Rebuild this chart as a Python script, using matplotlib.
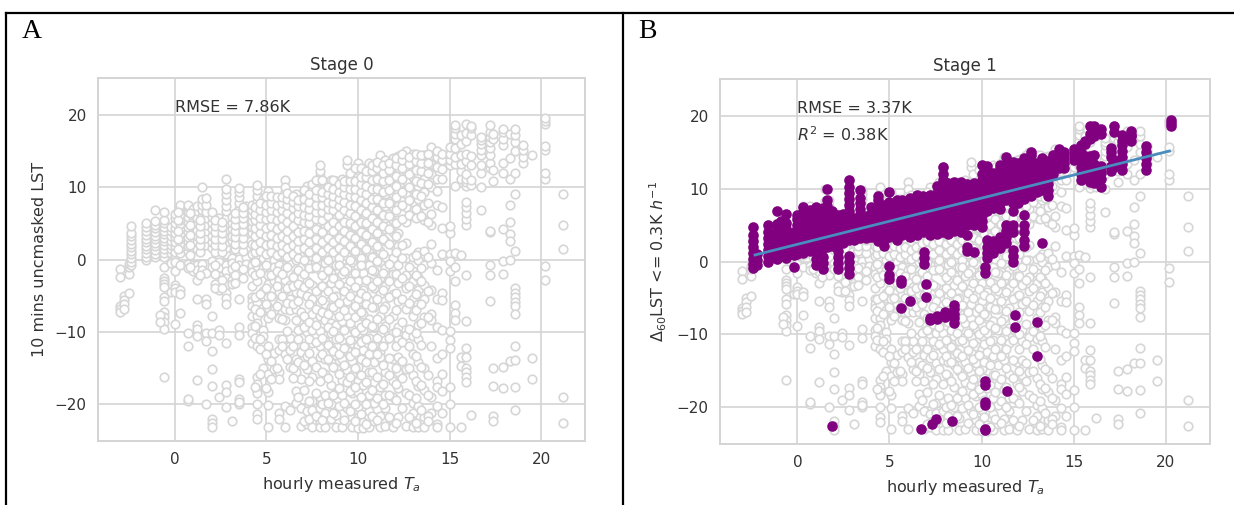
import matplotlib
matplotlib.use("Agg")
import matplotlib.pyplot as plt
from matplotlib.lines import Line2D

grey_x = [-3.0, -2.8, -2.5, -2.4, -1.6, -1.1, -0.6, -0.8, -0.2, 0.0, 0.3, 0.7, 1.0, 1.2, 1.5, 1.7, 2.0, 2.4, 2.8,
          3.1, 3.5, 3.9, 4.2, 4.5, 4.8, 5.1, 5.4, 5.7, 6.0, 6.3, 6.6, 6.9, 7.2, 7.5, 7.9, 8.2, 8.5, 8.8, 9.1, 9.4,
          9.7, 10.0, 10.3, 10.6, 10.9, 11.2, 11.5, 11.9, 12.2, 12.6, 13.0, 13.3, 13.6, 14.0, 14.3, 14.6, 15.0, 15.3,
          15.6, 15.9, 16.2, 16.7, 17.2, 17.4, 17.9, 18.3, 18.6, 19.0, 19.5, 20.2, 21.2]
grey_y = [
    [-1.3, -2.4, -6.4, -6.8, -7.2],
    [-5.0, -5.6, -6.2, -6.9],
    [-2.0, -4.7, -1.0, -0.6],
    [-0.8, -0.3, 0.2, 0.7, 1.2, 1.7, 2.2, 2.7, 3.2, 3.7, 4.6],
    [0.0, 0.4, 0.9, 1.4, 1.9, 2.4, 2.9, 3.4, 4.0, 4.5, 5.0],
    [0.3, 0.8, 1.3, 1.8, 2.3, 2.8, 3.3, 3.8, 4.3, 4.8, 5.3, 6.9],
    [0.4, 0.9, 1.4, 2.0, 2.5, 3.0, 3.5, 4.0, 4.5, 5.0, 5.5, 6.6, -1.0, -2.5, -3.0, -3.4, -3.8, -5.2, -5.8, -7.3, -8.0, -8.7, -9.6, -16.3],
    [-7.7, -8.6],
    [0.9, 1.4, 2.0, 2.6, 3.2, 3.9, 4.5, -0.5, -4.5],
    [0.6, 1.1, 1.8, 2.4, 3.1, 3.7, 4.4, 5.1, 5.7, 6.3, -0.4, -1.6, -3.5, -4.0, -4.5, -8.9],
    [0.9, 1.6, 2.2, 2.9, 3.5, 4.2, 4.9, 5.5, 6.1, 6.8, 7.3, 7.6, -0.8, -4.2, -4.8, -7.4],
    [1.2, 1.8, 2.5, 3.1, 3.8, 4.5, 5.2, 5.9, 6.6, 7.2, 7.6, -0.6, -1.2, -10.2, -11.9, -19.6, -19.3],
    [1.4, 2.1, 3.0, 3.8, 4.6, 5.4, 6.2, 7.0, -0.7, -1.6],
    [1.5, 2.4, 3.2, 4.1, 5.0, 5.8, 6.7, 7.4, -0.8, -1.5, -2.9, -5.5, -9.0, -9.6, -10.6, -16.6],
    [1.9, 2.6, 3.4, 4.3, 5.1, 6.0, 6.8, 7.5, 8.3, 10.0, -0.6, -1.4],
    [2.0, 3.0, 3.9, 4.8, 5.7, 6.6, 7.6, 8.5, -1.8, -5.5, -6.2, -10.2, -11.3, -20.0],
    [1.6, 2.4, 3.3, 4.2, 5.0, 5.9, 6.5, -0.2, -1.0, -7.8, -10.2, -12.7, -17.5, -22.0, -22.6, -23.2, -15.2],
    [0.5, 1.4, 2.3, 3.2, 4.0, 4.9, 5.7, -0.4, -1.2, -2.3, -3.0, -4.2, -9.8, -10.4, -19.0],
    [0.8, 1.6, 2.4, 3.3, 4.1, 5.0, 5.8, 6.7, 7.4, 8.2, 9.0, 9.8, 11.2, -0.8, -1.6, -2.5, -3.5, -4.6, -5.3, -6.1, -11.5, -17.4, -18.3, -20.4],
    [2.5, 3.3, 4.2, 5.0, 5.9, 0.2, -0.5, -1.3, -2.9, -3.4, -22.4],
    [3.0, 3.8, 4.6, 5.4, 6.2, 7.0, 7.8, 8.6, 9.3, 9.9, 1.0, 0.1, -0.8, -1.6, -5.4, -9.3, -10.5, -16.5, -16.9, -19.3, -20.0, -19.7],
    [3.5, 4.3, 5.1, 5.9, 6.6, 7.4, 1.5, 0.4, -0.6],
    [3.7, 4.5, 5.3, 6.1, 6.9, 7.5, 2.2, 0.8, -0.8, -1.7, -3.7, -5.2, -5.8, -6.4, -7.8, -9.4, -10.2, -11.6],
    [4.0, 4.8, 5.6, 6.4, 7.2, 8.0, 8.8, 9.6, 10.3, 2.4, 1.5, 0.4, -0.9, -3.0, -6.0, -7.8, -8.8, -12.0, -16.3, -17.2, -18.0, -18.4, -20.0, -21.4, -22.1],
    [4.3, 5.1, 5.9, 6.7, 7.5, 8.3, 3.0, 1.6, 0.2, -1.2, -4.4, -5.0, -6.7, -9.7, -10.6, -11.5, -15.0],
    [3.5, 4.5, 5.3, 6.1, 6.9, 7.6, 8.5, 9.5, 2.4, 1.2, -0.3, -2.2, -3.4, -5.2, -6.7, -8.1, -12.0, -13.8, -15.8, -18.3, -20.1, -23.1],
    [3.9, 4.8, 5.6, 6.4, 7.2, 8.0, 2.8, 1.4, 0.0, -1.0, -3.0, -5.8, -7.0, -12.9, -15.2],
    [4.3, 5.2, 6.0, 6.8, 7.6, 8.3, 3.0, 1.5, 0.5, -0.8, -2.9, -4.5, -6.0, -8.1, -11.0, -12.5, -15.5, -16.5, -21.2, -22.0],
    [4.5, 5.3, 6.2, 7.0, 7.8, 8.6, 9.3, 11.0, 10.0, 2.8, 1.8, 0.4, -1.2, -2.8, -4.2, -6.9, -8.4, -11.0, -13.1, -20.2, -23.1],
    [3.5, 4.8, 5.6, 6.4, 7.2, 8.0, 8.8, 2.4, 0.8, -0.5, -3.5, -5.5, -7.0, -10.9, -12.5, -14.8, -20.8],
    [3.0, 4.2, 5.0, 6.0, 6.9, 7.8, 8.7, 9.1, 1.5, 0.0, -1.9, -4.5, -6.9, -8.3, -11.8, -13.8, -15.5, -18.2, -19.9],
    [2.0, 3.4, 4.8, 5.8, 6.7, 7.7, 8.4, 0.5, -1.0, -2.5, -4.6, -7.2, -9.6, -12.8, -16.5, -20.5, -23.0],
    [3.2, 4.4, 5.4, 6.4, 7.4, 8.2, 9.0, 10.2, 1.2, -0.5, -3.0, -5.0, -8.5, -10.0, -13.3, -15.2, -21.0, -22.8],
    [2.0, 3.5, 4.8, 5.8, 6.8, 7.8, 8.8, 9.6, 10.4, 0.5, -1.2, -3.5, -5.5, -7.5, -9.8, -11.5, -14.0, -16.2, -19.5, -20.8, -23.2],
    [0.8, 2.5, 4.0, 5.2, 6.3, 7.3, 8.3, 9.2, 10.0, 10.8, 11.5, 12.2, 13.0, -1.5, -3.8, -6.0, -7.8, -9.9, -12.0, -13.5, -16.8, -19.0, -20.5, -22.5, -23.2],
    [1.8, 3.2, 4.8, 6.0, 7.0, 8.0, 9.0, 10.0, 10.7, -0.5, -2.5, -4.8, -6.2, -8.3, -11.3, -13.8, -15.8, -18.8, -21.2, -23.2],
    [2.2, 3.8, 5.3, 6.5, 7.5, 8.5, 9.5, 10.3, 11.0, 0.2, -1.8, -3.3, -6.5, -8.8, -10.2, -12.2, -14.2, -17.3, -20.0, -22.0],
    [1.0, 2.8, 4.4, 5.8, 7.0, 8.0, 9.0, 10.0, 10.8, -0.8, -2.6, -5.0, -7.0, -9.0, -11.0, -13.2, -15.0, -18.5, -21.5, -23.2],
    [2.0, 3.5, 5.0, 6.4, 7.6, 8.6, 9.6, 10.6, 11.2, 0.0, -2.0, -3.8, -6.2, -8.5, -11.2, -13.8, -16.6, -18.8, -23.1],
    [0.5, 2.4, 4.2, 5.7, 7.0, 8.2, 9.2, 10.2, 11.0, 13.0, 13.7, -1.2, -3.6, -5.8, -7.8, -10.4, -12.5, -15.3, -17.0, -20.5],
    [1.5, 3.2, 4.8, 6.4, 7.8, 9.0, 10.0, 11.0, 11.8, -0.4, -2.4, -4.6, -7.0, -9.2, -11.6, -14.0, -16.0, -18.5, -21.8, -23.2],
    [0.8, 2.6, 4.2, 5.8, 7.2, 8.4, 9.5, 10.5, 11.5, 12.4, 13.3, -1.0, -3.0, -5.4, -6.8, -8.8, -10.2, -12.0, -14.8, -16.8, -18.3, -20.4, -21.8, -23.3],
    [2.0, 3.8, 5.4, 6.8, 8.0, 9.2, 10.4, 11.4, 12.2, 0.2, -1.8, -4.2, -7.5, -9.8, -12.5, -13.8, -17.4, -19.5, -22.5, -23.3],
    [1.0, 3.0, 4.8, 6.4, 7.9, 9.4, 10.8, 11.8, 12.6, 13.3, -0.8, -3.0, -5.6, -8.2, -10.8, -13.0, -15.6, -18.8, -21.0, -23.2],
    [2.4, 4.0, 5.6, 7.2, 8.8, 10.2, 11.4, 12.4, 13.2, 0.5, -1.6, -4.0, -6.6, -9.4, -11.8, -14.2, -17.0, -19.8, -22.4],
    [1.2, 3.2, 5.0, 6.6, 8.2, 9.6, 11.0, 12.2, 13.2, 14.4, -0.3, -2.5, -4.8, -7.8, -10.4, -12.8, -13.5, -17.6, -21.6, -23.2],
    [2.6, 4.2, 5.8, 7.4, 9.0, 10.5, 11.8, 12.8, 13.7, 0.4, -1.2, -3.6, -6.4, -9.2, -11.2, -15.5, -18.8, -20.6, -23.0],
    [0.2, 2.0, 3.8, 5.5, 7.2, 9.0, 10.6, 12.0, 13.0, 14.0, -2.0, -4.8, -7.8, -10.2, -13.8, -16.8, -19.0, -22.8, -23.2],
    [1.8, 3.6, 5.4, 7.4, 9.4, 11.2, 12.6, 13.6, 14.3, -0.8, -3.2, -5.8, -9.4, -11.0, -13.5, -15.6, -17.8, -21.8],
    [2.3, 5.2, 7.2, 9.0, 10.8, 12.2, 13.4, 14.4, 15.0, 0.2, -2.2, -4.0, -6.8, -10.4, -15.2, -18.4, -23.0],
    [6.0, 8.0, 9.8, 11.4, 12.8, 13.8, 14.6, 0.4, -1.6, -3.0, -5.5, -7.8, -10.6, -13.0, -16.0, -19.8, -21.2, -22.4, -23.2],
    [6.5, 8.4, 10.2, 11.8, 13.0, 14.2, 1.0, 0.0, -2.4, -4.2, -6.2, -9.0, -11.0, -14.2, -17.5, -20.2, -23.1],
    [5.5, 7.5, 9.4, 11.2, 12.6, 13.8, 14.5, 1.2, -0.8, -3.5, -5.5, -8.0, -15.0, -18.0, -21.8, -23.2],
    [4.8, 6.3, 10.0, 11.8, 13.2, 14.4, 15.5, 2.2, -0.5, -4.2, -7.6, -8.4, -12.0, -19.0, -21.2],
    [7.6, 9.5, 11.2, 12.8, 14.2, 15.0, -1.5, -5.4, -9.4, -13.6, -16.8, -17.6, -20.2, -22.8, -23.2],
    [4.3, 7.3, 11.2, 12.5, 13.8, 14.6, 0.8, -4.6, -5.6, -9.8, -13.0, -15.9, -18.2, -21.2],
    [3.6, 4.6, 13.0, 13.8, 14.6, 15.5, 0.8, -0.2, -1.6, -9.9, -11.2, -12.3, -17.7, -20.0, -23.2],
    [10.2, 13.2, 14.2, 15.4, 16.6, 17.4, 18.2, 18.6, 0.9, -1.0, -3.0, -6.3, -7.4, -8.4],
    [11.2, 12.3, 13.2, 14.4, 16.0, 17.2, 0.6, -13.5, -14.7, -23.2],
    [10.1, 10.7, 11.2, 11.8, 13.6, 14.6, 16.4, 17.5, 18.7, 4.8, 5.6, 6.4, 7.3, 8.0, -2.2, -8.5, -12.2, -13.5, -15.0, -15.6, -16.3, -16.9],
    [10.3, 11.0, 13.0, 14.3, 17.2, 18.2, 18.5, -21.5],
    [10.0, 12.0, 13.0, 14.5, 15.2, 16.0, 16.5, 17.0, 6.8],
    [12.6, 13.3, 14.4, 15.4, 16.2, 17.0, 17.7, 18.6, 3.8, 4.0, -0.7, -2.2, -5.7],
    [10.9, 12.4, 16.6, 17.4, -15.0, -17.5, -21.6, -22.3],
    [12.0, 13.4, 15.8, 16.6, 17.6, 18.0, 4.2, -0.2, -2.0, -14.8, -17.8],
    [11.2, 14.0, 17.3, 7.5, 5.2, 3.5, 2.5, 0.0, -14.0],
    [12.0, 15.0, 16.2, 17.2, 18.0, 9.0, 1.2, -4.0, -4.6, -5.2, -5.9, -6.4, -7.6, -11.9, -13.9, -17.7, -20.8],
    [13.4, 14.2, 15.2, 15.9],
    [14.4, -13.6, -16.5],
    [11.2, 12.0, 15.2, 15.7, 18.8, 19.2, 19.5, -0.9, -2.8],
    [9.0, 4.8, 1.4, -19.0, -22.6],
]

# second pass over the denser part of the cloud, columns in between the first ones
grey_x2 = [0.15, 0.85, 1.35, 2.2, 2.6, 3.3, 3.7, 4.35, 4.65, 4.95, 5.25, 5.55, 5.85, 6.15, 6.45, 6.75, 7.05, 7.35,
           7.7, 8.05, 8.35, 8.65, 8.95, 9.25, 9.55, 9.85, 10.15, 10.45, 10.75, 11.05, 11.35, 11.7, 12.05, 12.4, 12.8,
           13.15, 13.45, 13.8]
grey_y2 = [
    [1.4, 2.8, 4.0, 5.4, 6.6],
    [0.6, 2.0, 3.4, 4.8, 6.4, -1.0],
    [1.0, 2.0, 2.9, 3.7, 4.6, 5.4, -2.2],
    [1.1, 2.0, 2.9, 3.8, 4.6, 5.4, -0.8, -2.0, -3.4, -4.0],
    [1.0, 1.9, 2.8, 3.6, 4.5, 5.2, -2.8, -4.0],
    [1.4, 2.2, 3.1, 3.9, 4.8, 5.6, 6.4, -0.9, -2.2, -3.2],
    [1.2, 2.1, 3.0, 3.9, 4.9, 5.8, 6.4, 7.2, -1.3, -2.6],
    [1.0, 2.0, 3.2, 4.4, 5.4, 6.3, 7.3, -0.4, -2.2, -5.2, -6.8, -9.2, -10.8, -17.6],
    [1.2, 2.4, 3.6, 4.8, 5.8, 6.8, 7.8, -1.8, -4.8, -7.2, -11.0, -12.4, -15.8],
    [0.8, 2.0, 3.2, 4.4, 5.6, 6.6, 7.6, 8.8, -0.8, -3.9, -6.2, -13.0, -17.8],
    [1.0, 2.2, 3.4, 4.6, 5.8, 6.8, 7.8, 8.8, -2.2, -5.0, -7.5, -14.0, -16.5],
    [0.6, 1.8, 3.0, 4.2, 5.4, 6.6, 7.6, 8.6, -1.6, -3.7, -6.4, -15.0],
    [1.0, 2.0, 3.2, 4.6, 5.8, 6.8, 7.8, 8.6, -2.0, -5.0, -8.2, -11.0, -12.0],
    [0.4, 1.6, 2.8, 4.0, 5.2, 6.4, 7.6, 8.4, 9.2, -1.0, -4.0, -6.0, -9.9, -13.8],
    [0.8, 2.0, 3.2, 4.6, 5.9, 7.1, 8.0, 8.8, -2.4, -3.6, -6.2, -12.0, -15.0, -16.4],
    [0.2, 1.4, 2.6, 3.8, 5.4, 6.4, 7.4, 8.2, -1.4, -3.4, -5.8, -9.8, -11.0, -14.2, -19.0],
    [0.0, 1.6, 2.8, 4.0, 5.2, 6.2, 7.2, 8.4, 9.6, -2.0, -3.8, -7.8, -9.4, -12.0, -14.6, -18.0, -22.4],
    [1.0, 2.4, 3.6, 5.0, 6.0, 7.0, 8.0, 9.0, -1.2, -3.2, -6.2, -8.6, -11.0, -12.9, -16.8, -19.6, -22.0],
    [0.2, 1.6, 2.8, 4.2, 5.6, 6.6, 7.6, 8.6, 9.6, 11.0, -1.0, -4.4, -6.8, -9.0, -11.4, -14.8, -18.4, -21.6],
    [1.0, 2.4, 3.8, 5.4, 6.6, 7.6, 8.6, 9.4, 11.0, -2.2, -3.6, -5.6, -7.2, -10.8, -13.0, -15.5, -20.0, -22.2],
    [0.0, 1.6, 3.0, 4.6, 6.0, 7.0, 8.0, 9.0, 10.0, -1.4, -4.4, -7.5, -9.4, -11.8, -13.8, -16.4, -19.8],
    [1.0, 2.4, 4.0, 5.2, 6.8, 7.8, 8.8, 9.8, 11.0, -2.6, -5.2, -6.6, -9.9, -12.6, -14.8, -18.8, -21.2],
    [0.2, 1.6, 3.0, 4.6, 6.2, 7.4, 8.4, 9.4, 10.4, -0.8, -3.4, -6.0, -7.8, -10.8, -13.0, -15.8, -17.8, -20.2],
    [1.0, 2.6, 4.0, 5.2, 6.8, 8.0, 9.0, 10.0, 10.8, -1.6, -4.4, -7.0, -9.8, -12.2, -14.6, -19.8, -22.2],
    [0.0, 1.8, 3.4, 5.0, 6.4, 7.6, 8.8, 9.8, 10.8, 12.0, -3.0, -5.0, -8.8, -11.2, -13.4, -16.2, -18.2, -21.0],
    [1.2, 3.0, 4.6, 6.0, 7.4, 8.6, 9.8, 10.8, 12.6, -1.8, -3.8, -6.4, -8.0, -10.0, -12.8, -15.0, -17.6, -20.0, -22.4],
    [0.2, 2.2, 3.8, 5.2, 6.8, 8.2, 9.4, 10.4, 11.4, 12.6, -0.8, -4.6, -7.2, -9.4, -11.4, -13.8, -16.0, -19.0, -21.4],
    [1.4, 3.4, 5.0, 6.4, 7.8, 9.0, 10.2, 11.4, 12.2, -2.8, -5.0, -6.2, -8.8, -11.0, -14.2, -17.0, -20.0, -22.8],
    [0.4, 2.4, 4.2, 5.8, 7.2, 8.4, 9.8, 11.0, 12.2, 13.0, -1.4, -3.6, -6.6, -9.2, -12.0, -15.6, -18.0, -21.6],
    [1.8, 3.6, 5.2, 6.8, 8.4, 9.8, 11.2, 12.6, 13.5, -0.2, -3.0, -5.4, -8.2, -10.8, -13.0, -16.2, -19.2, -22.2],
    [0.8, 2.8, 4.6, 6.2, 7.8, 9.4, 10.8, 12.0, 13.0, -1.8, -4.2, -6.8, -9.6, -12.0, -14.6, -17.2, -20.0],
    [2.2, 4.2, 6.0, 7.8, 9.6, 11.0, 12.4, 13.4, -0.6, -3.0, -5.2, -8.2, -10.8, -13.6, -16.0, -18.8, -21.8],
    [1.0, 3.2, 5.0, 6.8, 8.6, 10.2, 11.6, 13.0, 14.0, -2.0, -4.6, -7.0, -10.0, -12.0, -15.0, -17.2, -19.4, -22.6],
    [2.0, 5.6, 7.6, 9.4, 11.2, 12.6, 13.8, 14.6, 0.2, -2.6, -5.4, -8.6, -11.4, -14.0, -16.4, -20.6],
    [6.2, 8.2, 10.0, 11.8, 13.2, 14.2, -1.0, -3.6, -6.0, -9.6, -12.0, -15.0, -18.8, -21.8],
    [5.8, 7.0, 9.0, 10.8, 12.4, 13.6, 14.6, 0.6, -2.2, -4.8, -7.0, -10.2, -13.4, -16.8, -19.2, -22.6],
    [6.0, 8.8, 10.6, 12.2, 13.4, 14.4, -1.2, -3.0, -6.2, -8.8, -11.8, -14.8, -17.4, -20.8],
    [5.2, 7.8, 10.4, 12.0, 13.4, 14.6, 0.4, -4.4, -8.0, -16.0, -18.8, -21.6, -22.4],
]

purple_x = [-2.4, -2.2, -1.6, -1.1, -0.9, -0.6, -0.2, 0.0, 0.3, 0.7, 1.0, 1.4, 1.6, 1.9, 2.2, 2.5, 2.8, 3.1, 3.4,
            3.7, 4.0, 4.4, 4.7, 5.0, 5.4, 5.7, 6.1, 6.5, 6.8, 7.2, 7.6, 7.9, 8.2, 8.5, 8.9, 9.2, 9.6, 10.0, 10.3, 10.6,
            11.0, 11.3, 11.7, 12.0, 12.3, 12.7, 13.0, 13.3, 13.6, 13.9, 14.2, 14.5, 15.0, 15.4, 15.6, 15.9, 16.1, 16.5,
            17.0, 17.2, 17.6, 18.1, 18.9, 20.3, 5.0, 5.6, 6.1, 7.0, 7.2, 7.6, 8.0, 8.5, 10.2, 11.4, 11.8, 13.0, 6.9, 1.9,
            6.7, 7.3, 7.5, 8.4]
purple_y = [
    [-0.9, -0.3, 0.4, 1.2, 2.0, 2.8, 3.6, 4.7],
    [-0.5, 0.2, 1.0],
    [0.0, 0.8, 1.6, 2.4, 3.2, 4.0, 5.0],
    [0.4, 1.2, 2.0, 2.8, 3.6, 4.4, 5.2, 7.0],
    [0.8, 1.6, 2.4, 3.2, 4.0, 4.8, 5.6],
    [0.5, 1.3, 2.1, 2.9, 3.7, 4.5, 5.3, 6.6],
    [0.9, 1.7, 2.5, 3.3, 4.1, -0.8],
    [1.0, 1.8, 2.6, 3.4, 4.2, 5.0, 5.8, 6.4],
    [1.2, 2.0, 2.8, 3.6, 4.4, 5.2, 6.0, 6.8, 7.5],
    [1.5, 2.3, 3.1, 3.9, 4.7, 5.5, 6.3, 7.1],
    [1.5, 2.3, 3.1, 3.9, 4.7, 5.5, 6.3, 7.5, -0.5, 0.3],
    [1.8, 2.6, 3.4, 4.2, 5.0, 5.8, 6.6, 7.4, -1.0, -0.2, 0.6],
    [2.0, 2.8, 3.6, 4.4, 5.2, 6.0, 6.8, 7.6, 8.4, 10.0],
    [2.2, 3.0, 3.8, 4.6, 5.4, 6.2, 7.0],
    [2.4, 3.2, 4.0, 4.8, 5.6, 6.4, -1.0, -0.2, 0.6, 1.4],
    [2.6, 3.4, 4.2, 5.0, 5.8, 6.5],
    [3.0, 3.8, 4.6, 5.4, 6.2, 7.0, 7.8, 8.6, 9.4, 10.2, 11.2, -1.7, -0.9, 0.0, 0.8],
    [3.0, 3.8, 4.6, 5.4, 6.0],
    [3.2, 4.0, 4.8, 5.6, 6.4, 7.2, 8.0, 8.8, 9.9],
    [3.2, 4.0, 4.8, 5.6, 6.3],
    [3.4, 4.2, 5.0, 5.8, 6.6, 7.5],
    [2.8, 3.6, 4.4, 5.2, 6.0, 6.8, 7.6, 8.4, 9.0],
    [2.2, 3.0, 3.8, 4.6, 5.4, 6.2, 7.0, 7.8],
    [3.4, 4.2, 5.0, 5.8, 6.6, 7.4, 8.2, 9.5],
    [3.0, 3.8, 4.6, 5.4, 6.2, 7.0, 7.8, 8.4],
    [3.6, 4.4, 5.2, 6.0, 6.8, 7.6, 8.4],
    [3.4, 4.2, 5.0, 5.8, 6.6, 7.4, 8.2, 8.8],
    [3.6, 4.4, 5.2, 6.0, 6.8, 7.6, 8.4, 9.1],
    [4.0, 4.8, 5.6, 6.4, 7.2, 8.0, 9.0],
    [3.6, 4.4, 5.2, 6.0, 6.8, 7.6, 8.4, 9.2],
    [3.8, 4.6, 5.4, 6.2, 7.0, 7.8, 8.6, 9.4, 10.4],
    [4.0, 4.8, 5.6, 6.4, 7.2, 8.0, 8.8, 9.6, 10.4, 11.2, 12.0, 13.0],
    [3.8, 4.6, 5.4, 6.2, 7.0, 7.8, 8.6, 9.4, 10.2, 10.8],
    [4.2, 5.0, 5.8, 6.6, 7.4, 8.2, 9.0, 9.8, 10.6, 11.0],
    [4.0, 4.8, 5.6, 6.4, 7.2, 8.0, 8.8, 9.6, 10.4, 11.0],
    [5.0, 5.8, 6.6, 7.4, 8.2, 9.0, 9.8, 10.6, 3.7, 2.0, 1.5],
    [6.0, 6.8, 7.6, 8.4, 9.2, 10.0, 10.8, 5.0, 1.3],
    [4.8, 5.6, 6.4, 7.2, 8.0, 8.8, 9.6, 10.4, 11.2, 12.0, 13.3],
    [0.5, 1.2, 2.0, 3.0, 7.0, 7.8, 8.6, 9.4, 10.2, 11.0, 11.8, 12.6, 13.2],
    [1.2, 2.0, 2.8, 7.4, 8.2, 9.0, 9.8, 10.6, 11.4, 12.2],
    [1.8, 2.6, 3.4, 7.2, 8.0, 8.8, 9.6, 10.4, 11.2, 12.0, 12.8, 13.3],
    [2.6, 3.4, 4.2, 5.0, 8.4, 9.2, 10.0, 10.8, 11.6, 12.4, 13.4, 14.4],
    [0.0, 0.8, 1.6, 4.0, 5.0, 7.0, 8.0, 8.8, 9.6, 10.4, 11.2, 12.0, 12.8, 13.7],
    [8.0, 8.8, 9.6, 10.4, 11.2, 12.0, 12.8, 13.6],
    [2.2, 3.0, 4.0, 5.0, 6.4, 8.6, 9.4, 10.2, 11.0, 11.8, 12.6, 13.4, 14.2],
    [9.0, 9.8, 10.6, 11.4, 12.2, 13.0, 13.8, 14.6, 15.0],
    [9.6, 10.4, 11.2, 12.0, 12.8, 13.6],
    [2.5, 9.8, 10.6, 11.4, 12.2, 13.0, 13.8, 14.3],
    [9.0, 9.8, 10.6, 11.4, 12.2, 13.0, 13.8],
    [12.0, 12.8, 13.4, 14.2, 14.7],
    [12.8, 13.6, 14.4, 15.5],
    [12.8, 13.6, 14.4, 15.0],
    [14.0, 14.8, 15.5],
    [15.0, 16.0, 14.0, 13.0, 12.0, 11.2],
    [16.2, 16.6, 14.5, 13.5, 12.5, 11.5],
    [16.8, 17.6, 18.6, 12.8, 11.8, 11.0, 14.5],
    [17.2, 18.0, 18.7, 13.4, 12.6, 11.8, 10.8, 14.6],
    [18.2, 17.5, 13.2, 12.2, 11.4, 10.2, 12.8],
    [12.4, 13.2, 14.4, 15.0, 15.6],
    [18.6, 17.8, 13.0, 14.0],
    [16.6, 17.4, 12.6, 13.4, 14.4, 15.2, 16.0],
    [16.6, 17.2, 18.0, 17.4],
    [12.6, 13.4, 14.2, 15.0, 15.9],
    [18.6, 19.0, 19.5],
    [-0.6, -1.8, -2.4],
    [-2.5, -3.0, -6.4],
    [-5.5],
    [-3.1, -4.9],
    [-7.8, -8.0],
    [-7.5, -7.9],
    [-7.6, -7.4, -7.0],
    [-6.0, -6.6, -7.2, -7.8, -8.4],
    [-0.8, -1.6, -16.5, -17.0, -19.3, -19.7, -23.0, -23.2],
    [-17.8],
    [-7.4, -9.0],
    [-8.3, -13.0],
    [1.3, 0.5, -0.3],
    [-22.6],
    [-23.0],
    [-22.3],
    [-21.6],
    [-22.0],
]

# fitted line through the selected points
fit_x = [-2.3, 20.2]
fit_y = [0.9, 15.2]

panel_titles = ["Stage 0", "Stage 1"]
panel_letters = ["A", "B"]
x_ticks = [0, 5, 10, 15, 20]
y_ticks = [-20, -10, 0, 10, 20]


def flatten(xs, ys):
    out_x = []
    out_y = []
    for x, col in zip(xs, ys):
        for y in col:
            out_x.append(x)
            out_y.append(y)
    return out_x, out_y


def style_axes(ax, title, ylabel):
    ax.set_xlim(-4.2, 22.4)
    ax.set_ylim(-25.1, 25.1)
    ax.set_xticks(x_ticks)
    ax.set_yticks(y_ticks)
    ax.set_axisbelow(True)
    ax.grid(True, color="#d4d4d4", lw=1.2)
    for s in ax.spines.values():
        s.set_color("#d4d4d4")
        s.set_linewidth(1.4)
    ax.tick_params(length=0, labelsize=11, labelcolor="#333333", pad=8)
    ax.set_title(title, fontsize=12, color="#333333", pad=6)
    ax.set_xlabel("hourly measured $T_a$", fontsize=11.5, color="#333333", labelpad=6)
    ax.set_ylabel(ylabel, fontsize=11.5, color="#333333", labelpad=6)


W, H = 1234, 505
fig = plt.figure(figsize=(W / 100, H / 100), dpi=100)
ax_a = fig.add_axes([98 / W, 1 - 441 / H, 487 / W, 363 / H])
ax_b = fig.add_axes([720 / W, 1 - 444 / H, 490 / W, 365 / H])

gx, gy = flatten(grey_x + grey_x2, grey_y + grey_y2)
px, py = flatten(purple_x, purple_y)

for ax in (ax_a, ax_b):
    ax.scatter(gx, gy, s=38, facecolor="white", edgecolor="#d6d6d6", linewidth=1.2, zorder=2)

style_axes(ax_a, panel_titles[0], "10 mins uncmasked LST")
style_axes(ax_b, panel_titles[1], r"$\Delta_{60}$LST <= 0.3K $h^{-1}$")

ax_b.scatter(px, py, s=58, color="purple", linewidth=0, zorder=3)
ax_b.plot(fit_x, fit_y, color="#4a8cbd", lw=2, zorder=4)

ax_a.text(0, 20, "RMSE = 7.86K", fontsize=11.5, color="#333333", va="bottom", zorder=5)
ax_b.text(0, 20, "RMSE = 3.37K", fontsize=11.5, color="#333333", va="bottom", zorder=5)
ax_b.text(0, 16.1, r"$R^2$ = 0.38K", fontsize=11.5, color="#333333", va="bottom", zorder=5)

# black frame round the two panels
for xs, ys in [((6, W), (13, 13)), ((6, 6), (13, H)), ((623, 623), (13, H))]:
    fig.add_artist(Line2D([x / W for x in xs], [1 - y / H for y in ys], color="black", lw=1.6))

fig.text(22 / W, 1 - 32 / H, panel_letters[0], family="Liberation Serif", fontsize=20, va="center")
fig.text(638 / W, 1 - 32 / H, panel_letters[1], family="Liberation Serif", fontsize=20, va="center")

fig.savefig("out.png", dpi=100)
